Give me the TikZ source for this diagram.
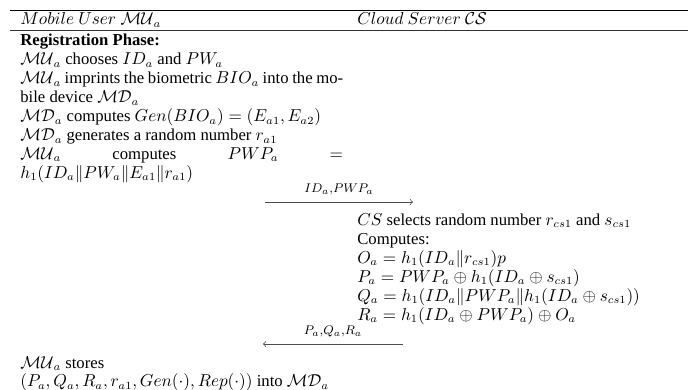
\documentclass[tikz,border=0pt]{standalone}
\usepackage[no-math]{fontspec}
\setmainfont{Liberation Serif}
\begin{document}
\begin{tikzpicture}[x=0.635pt,y=-0.635pt,
  txt/.style={anchor=base west,inner sep=0pt,font=\fontsize{10.6}{12}\selectfont},
  lbl/.style={inner sep=0pt,anchor=base,text=black,font=\fontsize{12.1}{14}\selectfont},
  rulea/.style={line width=0.6pt},
  msg/.style={->,line width=0.45pt,black!70}]
\useasboundingbox (0,0) rectangle (688,390);
\coordinate (r1a) at (10,10); \coordinate (r1b) at (688,10);
\coordinate (r2a) at (10,30); \coordinate (r2b) at (688,30);
\draw[rulea] (r1a) -- (r1b);
\draw[rulea,black!80] (r2a) -- (r2b);
\node[txt] (h1) at (20,25) {$Mobile\ User\ \mathcal{MU}_a$};
\node[txt] (h2) at (357,25) {$Cloud\ Server\ \mathcal{CS}$};
\def\colw{205pt}
\node[txt] (l1) at (20,46) {\textbf{Registration Phase:}};
\node[txt] (l2) at (20,64.9) {$\mathcal{MU}_a$ chooses $ID_a$ and $PW_a$};
\node[txt] (l3) at (20,83.8) {\makebox[\colw][s]{$\mathcal{MU}_a$ imprints the biometric $BIO_a$ into the mo-}};
\node[txt] (l4) at (20,102.7) {bile device $\mathcal{MD}_a$};
\node[txt] (l5) at (20,121.6) {$\mathcal{MD}_a$ computes $Gen(BIO_a)=(E_{a1},E_{a2})$};
\node[txt] (l6) at (20,140.5) {$\mathcal{MD}_a$ generates a random number $r_{a1}$};
\node[txt] (l7) at (20,159.4) {\makebox[\colw][s]{$\mathcal{MU}_a$ computes $PWP_a$ $=$}};
\node[txt] (l8) at (20,178.3) {$h_1(ID_a\|PW_a\|E_{a1}\|r_{a1})$};
\coordinate (a1s) at (265,202); \coordinate (a1e) at (413,202);
\draw[msg] (a1s) -- node[lbl,above=4pt] (m1) {$\scriptstyle ID_a,PWP_a$} (a1e);
\node[txt] (c1) at (357,225) {$CS$ selects random number $r_{cs1}$ and $s_{cs1}$};
\node[txt] (c2) at (357,244) {Computes:};
\node[txt] (c3) at (357,263) {$O_a=h_1(ID_a\|r_{cs1})p$};
\node[txt] (c4) at (357,282) {$P_a=PWP_a\oplus h_1(ID_a\oplus s_{cs1})$};
\node[txt] (c5) at (357,301) {$Q_a=h_1(ID_a\|PWP_a\|h_1(ID_a\oplus s_{cs1}))$};
\node[txt] (c6) at (357,320) {$R_a=h_1(ID_a\oplus PWP_a)\oplus O_a$};
\coordinate (a2s) at (403,344); \coordinate (a2e) at (263,344);
\draw[msg] (a2s) -- node[lbl,above=4pt] (m2) {$\scriptstyle P_a,Q_a,R_a$} (a2e);
\node[txt] (s1) at (20,368) {$\mathcal{MU}_a$ stores};
\node[txt] (s2) at (20,386.5) {$(P_a,Q_a,R_a,r_{a1},Gen(\cdot),Rep(\cdot))$ into $\mathcal{MD}_a$};
\end{tikzpicture}
\end{document}
